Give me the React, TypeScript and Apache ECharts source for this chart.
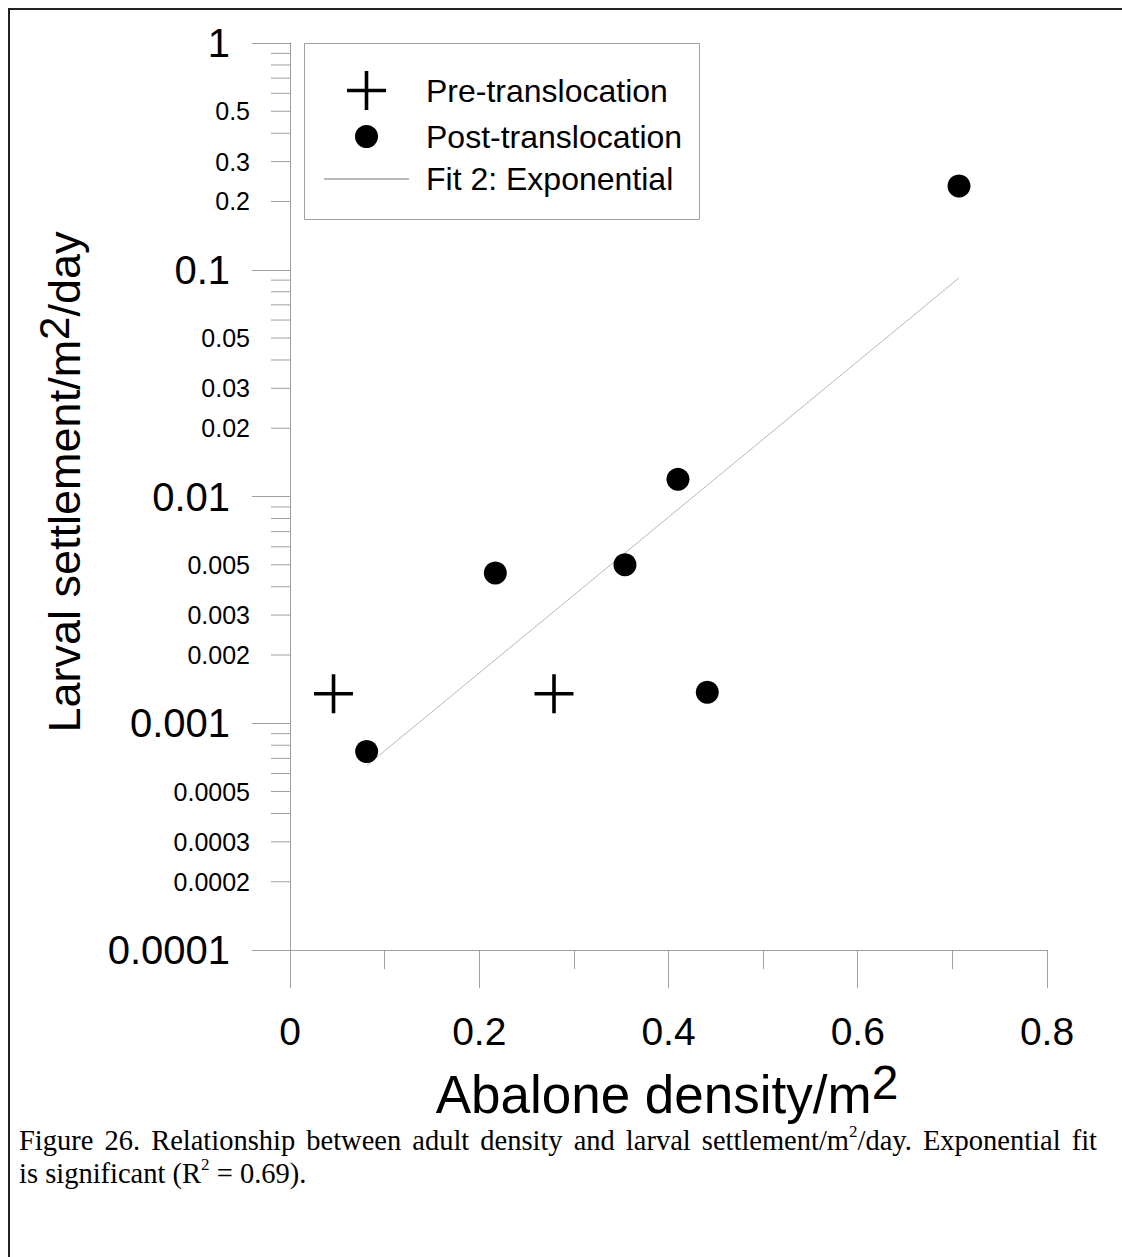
import React, { useEffect, useRef } from "react";
import * as echarts from "echarts";

// ---- data ----
const preX = [0.046, 0.279];
const preY = [0.00135, 0.00135];
const postX = [0.081, 0.217, 0.354, 0.41, 0.441, 0.707];
const postY = [0.00075, 0.0046, 0.005, 0.0119, 0.00137, 0.234];
const fitX = [0.081, 0.707];
const fitY = [0.00065, 0.092];

const xTickValues = [0, 0.2, 0.4, 0.6, 0.8];
const yMinorTicks = [
  0.9, 0.8, 0.7, 0.6, 0.5, 0.4, 0.3, 0.2,
  0.09, 0.08, 0.07, 0.06, 0.05, 0.04, 0.03, 0.02,
  0.009, 0.008, 0.007, 0.006, 0.005, 0.004, 0.003, 0.002,
  0.0009, 0.0008, 0.0007, 0.0006, 0.0005, 0.0004, 0.0003, 0.0002,
];
const yMinorLabels = [
  "0.5", "0.3", "0.2", "0.05", "0.03", "0.02",
  "0.005", "0.003", "0.002", "0.0005", "0.0003", "0.0002",
];
const seriesNames = ["Pre-translocation", "Post-translocation", "Fit 2: Exponential"];
const captionLine1 = "Figure 26. Relationship between adult density and larval settlement/m^2/day. Exponential fit";
const captionLine2 = "is significant (R^2 = 0.69).";

const SANS = "'Liberation Sans', Arial, Helvetica, sans-serif";
const SERIF = "'Liberation Serif', 'Times New Roman', Times, serif";
const AXIS = "#a0a0a0";
const PLUS = "path://M17.7,0H21.3V17.7H39V21.3H21.3V39H17.7V21.3H0V17.7H17.7Z";
const CIRCLE_ICON = "path://M0,0M39,39M8,19.5a11.5,11.5 0 1,0 23,0a11.5,11.5 0 1,0 -23,0z";

const CAP_SIZE = 28.5;
const SUP_SIZE = 17;
const capRich = {
  t: { fontSize: CAP_SIZE, fontFamily: SERIF, fill: "#000", lineHeight: 32 },
  s: { fontSize: SUP_SIZE, fontFamily: SERIF, fill: "#000", lineHeight: 32, padding: [0, 0, 18, 0] },
};
const toRich = (w: string) =>
  w
    .split("^2")
    .map((p) => (p ? `{t|${p}}` : ""))
    .join("{s|2}");

function justifiedWords(line: string, left: number, right: number, y: number) {
  const canvas = document.createElement("canvas");
  const ctx = canvas.getContext("2d")!;
  const measure = (w: string) => {
    const parts = w.split("^2");
    let total = 0;
    ctx.font = `${CAP_SIZE}px ${SERIF}`;
    parts.forEach((p) => (total += ctx.measureText(p).width));
    ctx.font = `${SUP_SIZE}px ${SERIF}`;
    total += (parts.length - 1) * ctx.measureText("2").width;
    return total;
  };
  const words = line.split(" ");
  const widths = words.map(measure);
  const sum = widths.reduce((a, b) => a + b, 0);
  const gap = Math.max(4, (right - left - sum) / (words.length - 1));
  let x = left;
  return words.map((w, i) => {
    const el = {
      type: "text",
      x,
      y,
      style: { text: toRich(w), align: "left", verticalAlign: "middle", rich: capRich },
    };
    x += widths[i] + gap;
    return el;
  });
}

export default function App() {
  const ref = useRef<HTMLDivElement>(null);
  useEffect(() => {
    if (!ref.current) return;
    const chart = echarts.init(ref.current, null, { renderer: "svg" });
    const option: any = {
      animation: false,
      backgroundColor: "#fff",
      grid: { left: 290, top: 43, width: 757, height: 907, containLabel: false },
      xAxis: {
        type: "value",
        min: 0,
        max: 0.8,
        interval: 0.2,
        axisLine: { show: true, lineStyle: { color: AXIS, width: 1 } },
        axisTick: { show: true, length: 38, lineStyle: { color: AXIS, width: 1 } },
        minorTick: { show: true, splitNumber: 2, length: 19, lineStyle: { color: AXIS, width: 1 } },
        splitLine: { show: false },
        minorSplitLine: { show: false },
        axisLabel: {
          margin: 62,
          fontSize: 39,
          fontFamily: SANS,
          color: "#000",
          formatter: (v: number) => {
            const t = xTickValues.find((k) => Math.abs(k - v) < 1e-9);
            return t === undefined ? "" : String(t);
          },
        },
      },
      yAxis: {
        type: "log",
        logBase: 10,
        min: 0.0001,
        max: 1,
        axisLine: { show: true, lineStyle: { color: AXIS, width: 1 } },
        axisTick: { show: true, length: 38, lineStyle: { color: AXIS, width: 1 } },
        splitLine: { show: false },
        axisLabel: {
          margin: 60,
          fontSize: 40,
          fontFamily: SANS,
          color: "#000",
          formatter: (v: number) => String(Number(Number(v).toPrecision(4))),
        },
      },
      legend: {
        orient: "vertical",
        left: 323,
        top: 71,
        padding: 0,
        itemWidth: 85,
        itemHeight: 39,
        itemGap: 7,
        selectedMode: false,
        textStyle: { fontSize: 32, fontFamily: SANS, color: "#000", padding: [0, 0, 0, 12] },
        data: [
          { name: seriesNames[0], icon: PLUS },
          { name: seriesNames[1], icon: CIRCLE_ICON },
          { name: seriesNames[2], itemStyle: { opacity: 0 } },
        ],
      },
      graphic: [
        { type: "line", shape: { x1: 8, y1: 9, x2: 1122, y2: 9 }, style: { stroke: "#222", lineWidth: 2 } },
        { type: "line", shape: { x1: 9, y1: 8, x2: 9, y2: 1257 }, style: { stroke: "#222", lineWidth: 2 } },
        {
          type: "rect",
          shape: { x: 304.5, y: 43.5, width: 395, height: 176 },
          style: { fill: "#fff", stroke: AXIS, lineWidth: 1 },
          z: -1,
        },
        {
          type: "text",
          x: 667,
          y: 1094,
          style: {
            text: "{a|Abalone density/m}{s|2}",
            align: "center",
            verticalAlign: "middle",
            rich: {
              a: { fontSize: 53, fontFamily: SANS, fill: "#000", lineHeight: 54 },
              s: { fontSize: 48, fontFamily: SANS, fill: "#000", lineHeight: 54, padding: [0, 0, 24, 0] },
            },
          },
        },
        {
          type: "text",
          x: 64,
          y: 482,
          rotation: Math.PI / 2,
          style: {
            text: "{a|Larval settlement/m}{s|2}{a|/day}",
            align: "center",
            verticalAlign: "middle",
            rich: {
              a: { fontSize: 45, fontFamily: SANS, fill: "#000", lineHeight: 52 },
              s: { fontSize: 42, fontFamily: SANS, fill: "#000", lineHeight: 52, padding: [0, 0, 20, 0] },
            },
          },
        },
        ...justifiedWords(captionLine1, 19, 1097, 1140),
        {
          type: "text",
          x: 19,
          y: 1173,
          style: { text: toRich(captionLine2), align: "left", verticalAlign: "middle", rich: capRich },
        },
      ],
      series: [
        {
          name: "yMinor",
          type: "custom",
          silent: true,
          clip: false,
          data: yMinorTicks.map((v) => [0, v]),
          encode: { x: 0, y: 1 },
          renderItem: (params: any, api: any) => {
            const v = yMinorTicks[params.dataIndex];
            const p = api.coord([0, v]);
            const children: any[] = [
              {
                type: "line",
                shape: { x1: p[0] - 19, y1: p[1], x2: p[0], y2: p[1] },
                style: { stroke: AXIS, lineWidth: 1 },
              },
            ];
            const lbl = String(v);
            if (yMinorLabels.includes(lbl)) {
              children.push({
                type: "text",
                x: p[0] - 40,
                y: p[1],
                style: {
                  text: lbl,
                  align: "right",
                  verticalAlign: "middle",
                  fontSize: 25,
                  fontFamily: SANS,
                  fill: "#000",
                },
              });
            }
            return { type: "group", children };
          },
        },
        {
          name: seriesNames[2],
          type: "line",
          data: fitX.map((x, i) => [x, fitY[i]]),
          symbol: "none",
          showSymbol: false,
          lineStyle: { color: "#b8b8b8", width: 1 },
          itemStyle: { color: "#b8b8b8" },
          z: 2,
        },
        {
          name: seriesNames[0],
          type: "scatter",
          data: preX.map((x, i) => [x, preY[i]]),
          symbol: PLUS,
          symbolSize: 39,
          itemStyle: { color: "#000", opacity: 1 },
          z: 3,
        },
        {
          name: seriesNames[1],
          type: "scatter",
          data: postX.map((x, i) => [x, postY[i]]),
          symbol: "circle",
          symbolSize: 23,
          itemStyle: { color: "#000", opacity: 1 },
          z: 3,
        },
      ],
    };
    chart.setOption(option);
    return () => chart.dispose();
  }, []);
  return (
    <div
      ref={ref}
      style={{ position: "absolute", left: 0, top: 0, width: 1122, height: 1257, background: "#fff" }}
    />
  );
}
